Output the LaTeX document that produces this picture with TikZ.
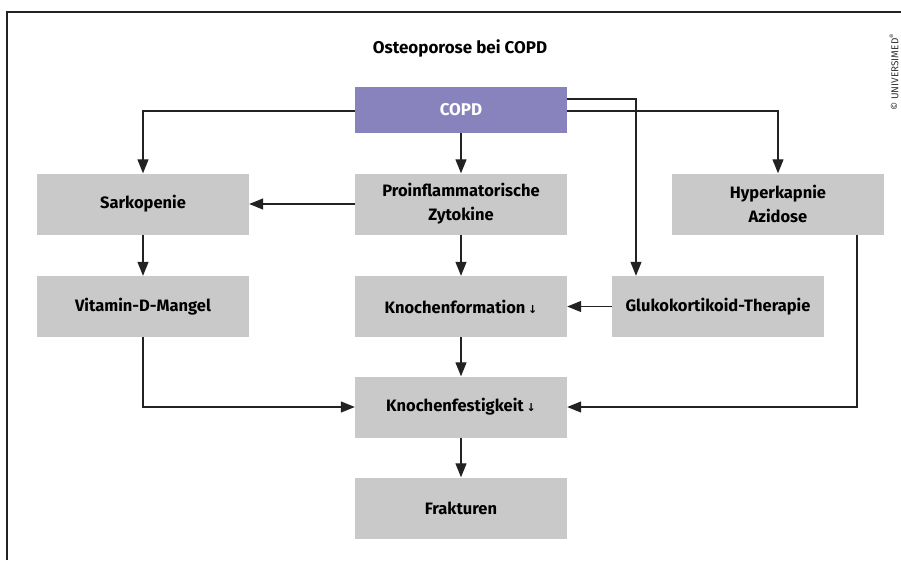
\documentclass[tikz,border=0pt]{standalone}
\usepackage{fontspec}
\setmainfont{Fira Sans}
\newfontfamily\symfont{DejaVu Sans}
\usetikzlibrary{arrows.meta}
\definecolor{boxgray}{HTML}{C8C9C8}
\definecolor{copdpurple}{HTML}{8983BD}
\definecolor{linegray}{HTML}{222222}
\newcommand{\dn}{\,{\symfont\fontsize{11}{11}\selectfont\bfseries ↓}}
\tikzset{
  box/.style={fill=boxgray, minimum width=212pt, minimum height=61pt, inner sep=0pt, align=center,
    font=\fontsize{16.5}{24}\selectfont\bfseries, text=black},
  topbox/.style={fill=copdpurple, minimum width=212pt, minimum height=46pt, inner sep=0pt,
    font=\fontsize{17}{20}\selectfont\bfseries, text=white},
  arr/.style={draw=linegray, line width=1.2pt, -{Triangle[length=14pt,width=11pt]}},
  frame/.style={draw=linegray, line width=1.4pt}
}
\begin{document}
\begin{tikzpicture}[x=1pt,y=-1pt]
\useasboundingbox (0,0) rectangle (901,560);
\draw[frame] (7,560) -- (7,12) -- (901,12);
\node[font=\fontsize{17}{20}\selectfont\bfseries] (title) at (460,48) {Osteoporose bei COPD};
\node[rotate=90, font=\fontsize{10}{12}\selectfont, text=black!80] (copy) at (894,72) {© UNIVERSIMED\textsuperscript{®}};
\node[topbox] (copd) at (461,110) {COPD};
\node[box] (sark) at (143,204) {Sarkopenie};
\node[box] (pro) at (461,204) {Proinflammatorische\\Zytokine};
\node[box] (hyp) at (778,204) {Hyperkapnie\\Azidose};
\node[box] (vit) at (143,306.5) {Vitamin-D-Mangel};
\node[box] (kform) at (461,306.5) {Knochenformation\dn};
\node[box] (gluk) at (718,306.5) {Glukokortikoid-Therapie};
\node[box] (kfest) at (461,407) {Knochenfestigkeit\dn};
\node[box] (frak) at (461,508) {Frakturen};
\coordinate (glukin) at ([xshift=-82pt]gluk.north);
\coordinate (hypout) at ([xshift=79pt]hyp.south);
\draw[arr] ([yshift=-1pt]copd.west) -| (sark.north);
\draw[arr] ([yshift=-1pt]copd.east) -| (hyp.north);
\draw[arr] ([yshift=11pt]copd.east) -| (glukin);
\draw[arr] (copd.south) -- (pro.north);
\draw[arr] (pro.west) -- (sark.east);
\draw[arr] (sark.south) -- (vit.north);
\draw[arr] (pro.south) -- (kform.north);
\draw[arr] (gluk.west) -- (kform.east);
\draw[arr] (kform.south) -- (kfest.north);
\draw[arr] (vit.south) |- (kfest.west);
\draw[arr] (hypout) |- (kfest.east);
\draw[arr] (kfest.south) -- (frak.north);
\end{tikzpicture}
\end{document}
